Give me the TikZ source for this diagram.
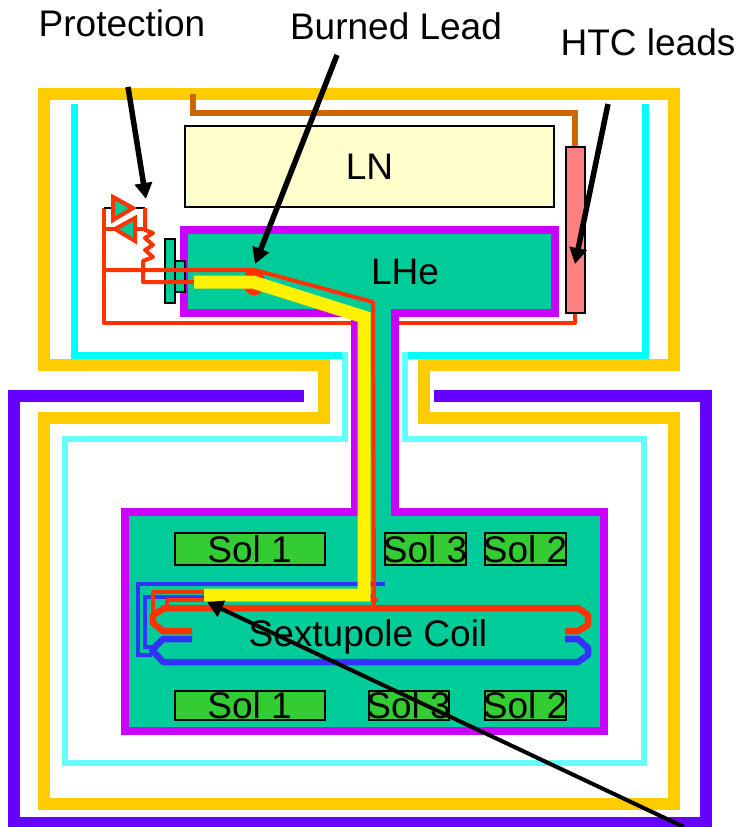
\documentclass[tikz,border=0pt]{standalone}
\usepackage{fontspec}
\setmainfont{Liberation Sans}
\usetikzlibrary{arrows.meta}
\definecolor{gold}{HTML}{FFCC00}
\definecolor{violet1}{HTML}{6600FF}
\definecolor{cyan1}{HTML}{00FFFF}
\definecolor{cyan2}{HTML}{66FFFF}
\definecolor{magenta1}{HTML}{CC00FF}
\definecolor{helium}{HTML}{00CC99}
\definecolor{nitrogen}{HTML}{FFFFCC}
\definecolor{htc}{HTML}{FF8080}
\definecolor{brown1}{HTML}{CC6600}
\definecolor{redwire}{HTML}{FF3300}
\definecolor{bluewire}{HTML}{3333FF}
\definecolor{solgreen}{HTML}{33CC33}
\newcommand{\soltext}[1]{\makebox[0pt]{#1}}
\begin{document}
\begin{tikzpicture}[x=1pt,y=-1pt,
                    every node/.style={font=\fontsize{37}{40}\selectfont,inner sep=0pt},
                    wall/.style={line width=12pt,miter limit=10},
                    wire/.style={redwire,line width=4pt,line join=round},
                    coil/.style={line width=6.5pt,line join=round},
                    lead/.style={bluewire,line width=4.5pt},
                    solbox/.style={draw=black,line width=2pt,fill=solgreen,minimum height=32pt},
                    pointer/.style={black,line width=5.5pt,-{Triangle[length=16pt,width=17pt]}}]
                    \useasboundingbox (0,0) rectangle (738,827);
                    % walls
                    \draw[wall,gold] (324,365) -- (44,365) -- (44,94) -- (674,94) -- (674,365) -- (424,365)
                        -- (424,418) -- (674,418) -- (674,804) -- (44,804) -- (44,418) -- (324,418) -- cycle;
                    \draw[wall,violet1] (304,396) -- (14,396) -- (14,823) -- (706,823) -- (706,396) -- (434,396);
                    \draw[cyan1,line width=7pt] (74,104) -- (74,355) -- (344,355);
                    \draw[cyan1,line width=7pt] (645,104) -- (645,355) -- (404,355);
                    \draw[cyan2,line width=6pt] (345,352) -- (345,439) -- (65,439) -- (65,763) -- (644,763)
                        -- (644,439) -- (405,439) -- (405,352);
                    % outer return of the protection circuit
                    \draw[wire] (575,313) -- (575,323) -- (104,323) -- (104,208);
                    % helium vessel
                    \draw[magenta1,line width=8pt,fill=helium] (354.5,313) -- (184,313) -- (184,229.5) -- (554.5,229.5)
                        -- (554.5,313) -- (394.5,313) -- (394.5,512) -- (604,512) -- (604,731) -- (125,731)
                        -- (125,512) -- (354.5,512) -- cycle;
                    \node[draw=black,line width=2pt,fill=nitrogen,minimum width=369pt,minimum height=81pt] (LN) at (369.5,166.5) {\raisebox{-2pt}{LN}};
                    \node (LHe) at (405,272) {LHe};
                    \node[draw=black,line width=2pt,fill=htc,minimum width=19pt,minimum height=166pt] (HTC) at (575,229.5) {};
                    \draw[brown1,line width=5.5pt] (193,94) -- (193,113) -- (575,113) -- (HTC.north);
                    % solenoids
                    \node[solbox,minimum width=150pt] (Sol1a) at (249.5,549) {\soltext{Sol 1}};
                    \node[solbox,minimum width=81pt] (Sol3a) at (425,549) {\soltext{Sol 3}};
                    \node[solbox,minimum width=81pt] (Sol2a) at (525,549) {\soltext{Sol 2}};
                    \node[solbox,minimum width=150pt,minimum height=29pt] (Sol1b) at (249.5,705) {\soltext{Sol 1}};
                    \node[solbox,minimum width=80pt,minimum height=29pt] (Sol3b) at (408.5,705) {\soltext{Sol 3}};
                    \node[solbox,minimum width=81pt,minimum height=29pt] (Sol2b) at (525,705) {\soltext{Sol 2}};
                    % current block
                    \node[draw=black,line width=2pt,fill=helium,minimum width=10pt,minimum height=64pt] (BlockA) at (169.5,271) {};
                    \node[draw=black,line width=2pt,fill=helium,minimum width=10pt,minimum height=31pt] (BlockB) at (180,276.5) {};
                    % protection
                    \draw[black,line width=1.5pt] (104,208) -- (113,208) (133,208) -- (145,208);
                    \draw[wire,fill=helium,line join=miter] (113,197) -- (133,208) -- (113,220) -- cycle;
                    \draw[wire,fill=helium,line join=miter] (135,218) -- (115,229) -- (135,241) -- cycle;
                    \draw[wire] (104,229) -- (115,229) (135,229) -- (145,229);
                    \draw[wire] (145,208) -- (145,230) -- (153,233) -- (145,238) -- (153,245) -- (145,250)
                        -- (153,257) -- (143,261) -- (143,282) -- (195,282);
                    \fill[redwire] (254,282) ellipse (11pt and 13.5pt);
                    % coil leads
                    \draw[lead] (152,655) -- (138,655) -- (138,584) -- (385,584);
                    \draw[lead] (152,647) -- (145,647) -- (145,597) -- (372,597);
                    \draw[wire] (153,613) -- (153,592) -- (204,592);
                    \draw[wire] (167,608) -- (167,600) -- (378,600);
                    % burned lead and its partner
                    \draw[wire] (104,270) -- (255,270) -- (373,302) -- (374,607);
                    \draw[yellow,line width=13pt,line join=miter] (194,282) -- (253,282) -- (364,317) -- (364,595) -- (204,595);
                    % sextupole coil
                    \draw[coil,redwire] (192,631) -- (163,631) -- (153,623) -- (153,615) -- (165,608) -- (578,608)
                        -- (588,615) -- (588,625) -- (578,631) -- (565,631);
                    \draw[coil,bluewire] (192,639) -- (163,639) -- (152,650) -- (163,662) -- (578,662)
                        -- (588,655) -- (588,648) -- (578,639) -- (565,639);
                    \node (Coil) at (368,637) {Sextupole Coil};
                    % labels
                    \node (Protection) at (122,23) {Protection};
                    \node (Burned) at (396,26) {Burned Lead};
                    \node (Leads) at (648,42) {HTC leads};
                    \coordinate (ProtectionTail) at (128,87);
                    \coordinate (ProtectionTip) at (146,199);
                    \coordinate (BurnedTail) at (337,55);
                    \coordinate (BurnedTip) at (255,264);
                    \coordinate (LeadsTail) at (608,104);
                    \coordinate (LeadsTip) at (575,264);
                    \coordinate (CoilTail) at (684,827);
                    \coordinate (CoilTip) at (207,602);
                    \draw[pointer] (ProtectionTail) -- (ProtectionTip);
                    \draw[pointer] (BurnedTail) -- (BurnedTip);
                    \draw[pointer] (LeadsTail) -- (LeadsTip);
                    \draw[pointer,line width=4pt] (CoilTail) -- (CoilTip);
                \end{tikzpicture}
\end{document}
